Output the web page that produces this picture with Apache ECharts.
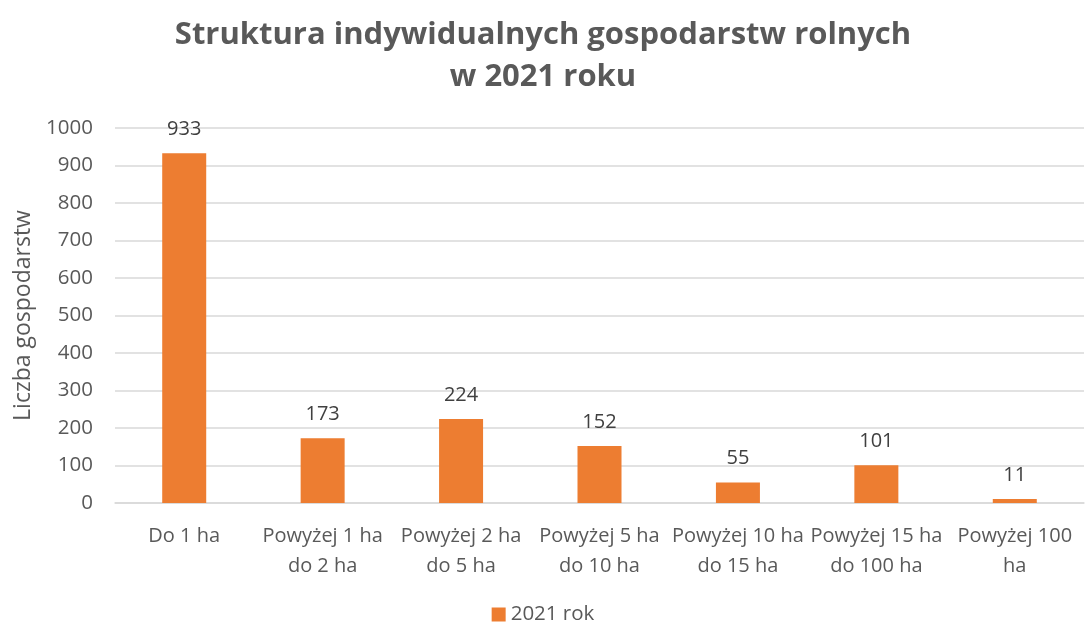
<!DOCTYPE html>
<html><head><meta charset="utf-8">
<script src="https://cdn.jsdelivr.net/npm/echarts@6/dist/echarts.min.js"></script>
<style>html,body{margin:0;padding:0;background:#fff}#c{width:1086px;height:626px}</style>
</head><body><div id="c"></div>
<script>
const categories = ['Do 1 ha', 'Powyżej 1 ha\ndo 2 ha', 'Powyżej 2 ha\ndo 5 ha', 'Powyżej 5 ha\ndo 10 ha', 'Powyżej 10 ha\ndo 15 ha', 'Powyżej 15 ha\ndo 100 ha', 'Powyżej 100\nha'];
const values2021 = [933, 173, 224, 152, 55, 101, 11];
const seriesName = '2021 rok';
const titleText = 'Struktura indywidualnych gospodarstw rolnych\nw 2021 roku';
const yAxisName = 'Liczba gospodarstw';

const chart = echarts.init(document.getElementById('c'));
const FONT = 'Open Sans';
chart.setOption({
  animation: false,
  textStyle: { fontFamily: FONT },
  title: {
    text: titleText, left: 'center', top: 9,
    textStyle: { fontFamily: FONT, fontSize: 31, fontWeight: 'bold', color: '#595959', lineHeight: 42 }
  },
  legend: {
    top: 604, left: 'center', padding: 0, itemWidth: 14, itemHeight: 14, itemGap: 6,
    data: [{ name: seriesName, icon: 'rect' }],
    textStyle: { fontFamily: FONT, fontSize: 20.5, color: '#595959' }
  },
  grid: { left: 115, right: 2, top: 128, bottom: 123 },
  xAxis: {
    type: 'category', data: categories,
    axisLine: { lineStyle: { color: '#D9D9D9', width: 1.5 } },
    axisTick: { show: false },
    axisLabel: { fontFamily: FONT, fontSize: 20, color: '#595959', margin: 18, lineHeight: 30, interval: 0 }
  },
  yAxis: {
    type: 'value', min: 0, max: 1000, interval: 100,
    name: yAxisName, nameLocation: 'middle', nameGap: 76, nameRotate: 90,
    nameTextStyle: { fontFamily: FONT, fontSize: 23, color: '#595959' },
    axisLine: { show: false }, axisTick: { show: false },
    axisLabel: { fontFamily: FONT, fontSize: 20.5, color: '#595959', margin: 22, formatter: v => String(v) },
    splitLine: { lineStyle: { color: '#D9D9D9', width: 1.5 } }
  },
  series: [{
    name: seriesName, type: 'bar', data: values2021, barWidth: 44,
    itemStyle: { color: '#ED7D31' },
    label: { show: true, position: 'top', distance: 14, fontFamily: FONT, fontSize: 20, color: '#404040' }
  }]
});
</script></body></html>
